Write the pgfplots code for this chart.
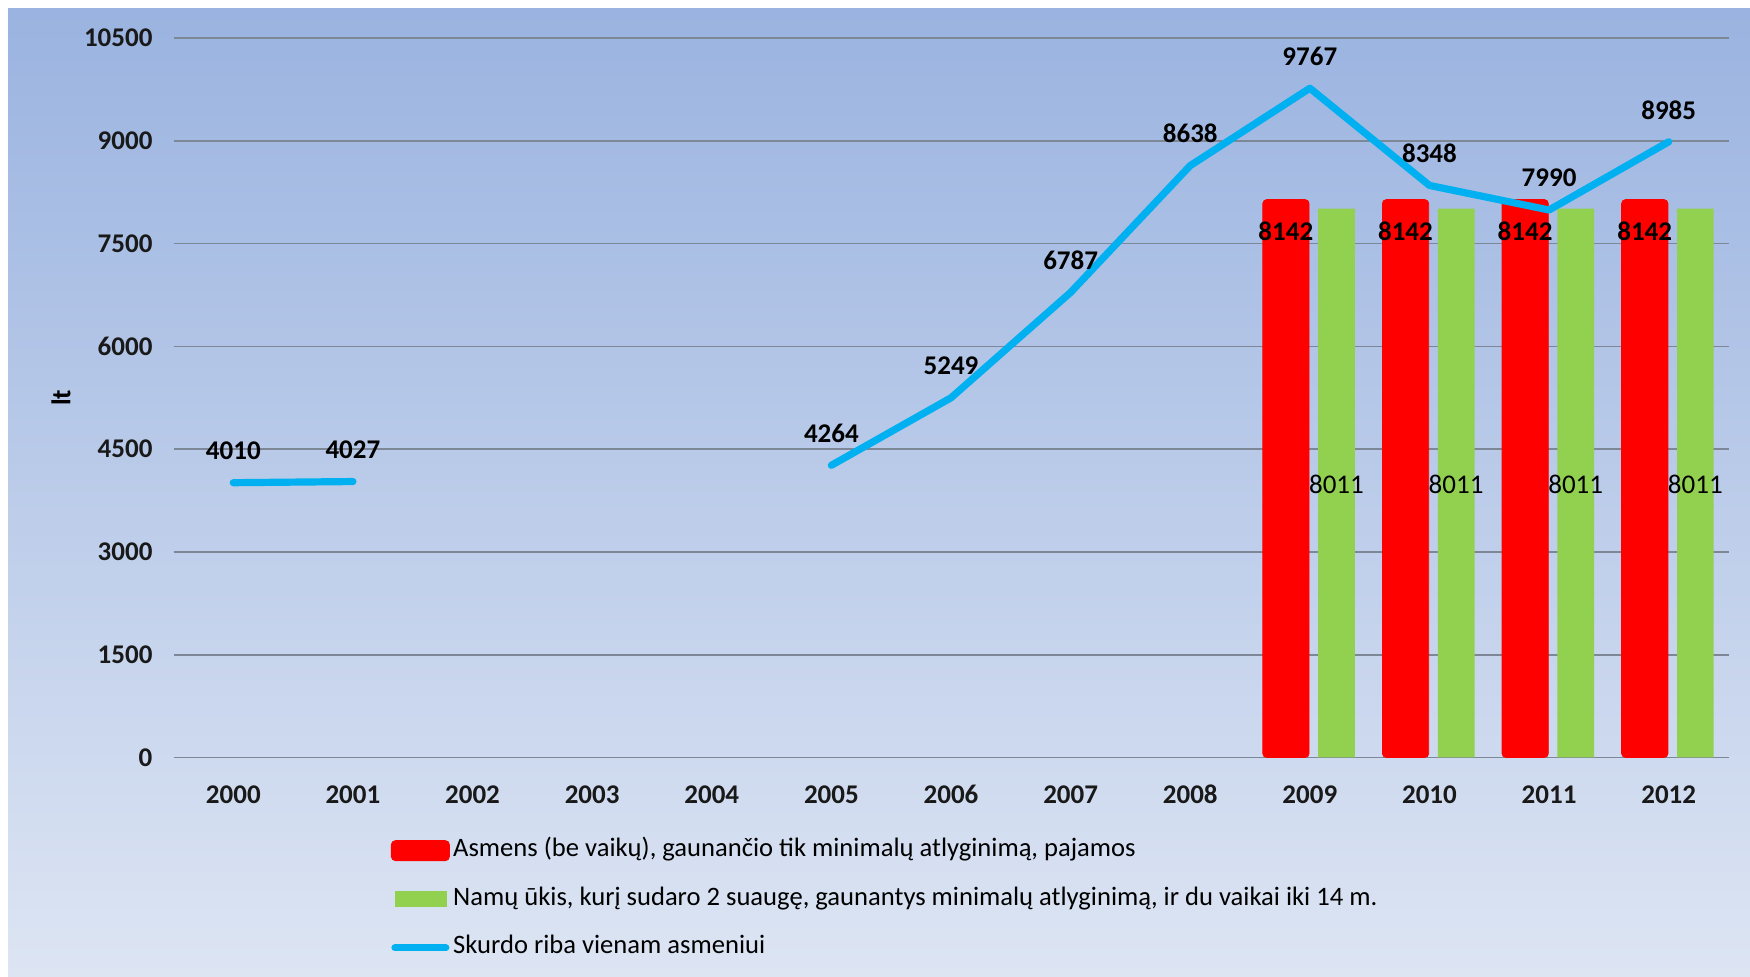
\documentclass[border=0pt]{standalone}
\usepackage{fontspec}
\setmainfont{Carlito}
\usepackage{pgfplots}
\pgfplotsset{compat=1.18}

\definecolor{barred}{HTML}{FF0000}
\definecolor{bargreen}{HTML}{92D050}
\definecolor{linecyan}{HTML}{00B0F0}
\definecolor{bgtop}{HTML}{9AB3E0}
\definecolor{bgbottom}{HTML}{DDE5F3}
\definecolor{gridgray}{HTML}{7D8796}

\begin{document}
\begin{tikzpicture}
  % background (white frame strip + blue gradient)
  \fill[white] (0,0) rectangle (875pt,488.5pt);
  \shade[top color=bgtop, bottom color=bgbottom] (4pt,0) rectangle (875pt,484pt);

  \begin{axis}[
    at={(86.75pt,109.75pt)}, anchor=south west,
    scale only axis, width=777.5pt, height=359.75pt,
    xmin=-0.5, xmax=12.5, ymin=0, ymax=10500,
    xtick={0,...,12},
    xticklabels={2000,2001,2002,2003,2004,2005,2006,2007,2008,2009,2010,2011,2012},
    ytick={0,1500,...,10500},
    scaled y ticks=false,
    axis line style={draw=none},
    major tick length=0pt,
    ymajorgrids, grid style={gridgray, line width=0.8pt},
    /pgf/number format/assume math mode=true,
    /pgf/number format/1000 sep={},
    tick label style={font=\fontsize{13.5}{16}\selectfont\bfseries, text=black!90},
    yticklabel style={xshift=-7pt},
    xticklabel style={yshift=-10.5pt, text height=9pt, text depth=0pt},
    ylabel={lt},
    every axis y label/.style={at={(axis description cs:-0.0723,0.5)}, rotate=90,
      anchor=center, font=\fontsize{13.5}{16}\selectfont\bfseries},
    legend style={at={(axis description cs:0.1396,-0.197)}, anchor=west,
      draw=none, fill=none, font=\fontsize{13.3}{16}\selectfont,
      row sep=12.3pt, column sep=1.7pt, inner sep=0pt,
      nodes={inner sep=0pt, text height=9pt, text depth=3pt}},
    legend cell align=left,
    clip=false,
  ]

  % Asmens (be vaikų) pajamos
  \addplot[ybar, bar width=0.387, bar shift=-0.2, fill=barred, draw=barred,
    rounded corners=2pt,
    nodes near coords, point meta=y,
    every node near coord/.append style={anchor=center, yshift=-16pt, xshift=-12pt,
      font=\fontsize{13.5}{16}\selectfont\bfseries, text=black},
    legend image code/.code={\fill[barred, rounded corners=2pt] (0pt,-5pt) rectangle (29pt,5pt);}]
    coordinates {(9,8142) (10,8142) (11,8142) (12,8142)};
  \addlegendentry{Asmens (be vaikų), gaunančio tik minimalų atlyginimą, pajamos}

  % Namų ūkis
  \addplot[ybar, bar width=0.307, bar shift=0.223, fill=bargreen, draw=none,
    nodes near coords, point meta=y,
    every node near coord/.append style={anchor=center, yshift=-138pt, xshift=13.3pt,
      font=\fontsize{13.5}{16}\selectfont, text=black},
    legend image code/.code={\fill[bargreen] (1.7pt,-4pt) rectangle (27.7pt,4pt);}]
    coordinates {(9,8011) (10,8011) (11,8011) (12,8011)};
  \addlegendentry{Namų ūkis, kurį sudaro 2 suaugę, gaunantys minimalų atlyginimą, ir du vaikai iki 14 m.}

  % Skurdo riba
  \addplot[linecyan, line width=3.6pt, line cap=round, line join=round,
    nodes near coords, point meta=y,
    every node near coord/.append style={anchor=center, yshift=16pt,
      font=\fontsize{13.5}{16}\selectfont\bfseries, text=black},
    legend image code/.code={\draw[linecyan, line width=3.5pt, line cap=round] (1.75pt,0) -- (27.25pt,0);}]
    coordinates {(0,4010) (1,4027)};
  \addlegendentry{Skurdo riba vienam asmeniui}
  \addplot[linecyan, line width=3.6pt, line cap=round, line join=round, forget plot,
    nodes near coords, point meta=y,
    every node near coord/.append style={anchor=center, yshift=16pt,
      font=\fontsize{13.5}{16}\selectfont\bfseries, text=black}]
    coordinates {(5,4264) (6,5249) (7,6787) (8,8638) (9,9767) (10,8348) (11,7990) (12,8985)};

  \end{axis}
  \pgfresetboundingbox
  \useasboundingbox (0,0) rectangle (875pt,488.5pt);
\end{tikzpicture}
\end{document}
